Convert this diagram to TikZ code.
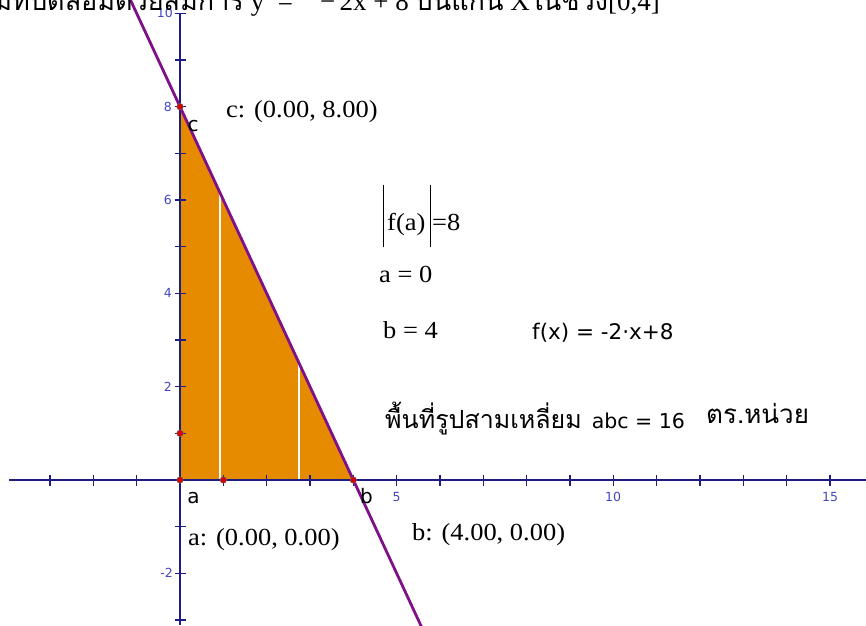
\documentclass[tikz,border=0pt]{standalone}
\usepackage{fontspec}
\setmainfont{Liberation Serif}
\newfontfamily\sansf{DejaVu Sans}
\newfontfamily\thaif[Script=Thai]{Loma}
\definecolor{axisblue}{RGB}{30,30,130}
\definecolor{numblue}{RGB}{70,70,195}
\definecolor{linepurple}{RGB}{128,16,136}
\definecolor{areaorange}{RGB}{230,138,0}
\definecolor{ptred}{RGB}{215,0,0}
\begin{document}
\begin{tikzpicture}[x=1pt,y=-1pt,
  axis/.style={draw=axisblue,line width=1.3pt},
  tickmark/.style={draw=axisblue,line width=1.1pt},
  num/.style={font=\sansf\fontsize{12.5}{14}\selectfont,text=numblue,inner sep=0pt},
  serif/.style={font=\fontsize{24.5}{28}\selectfont,inner sep=0pt,anchor=base west,xscale=1.08},
  sanstext/.style={font=\sansf\fontsize{21.5}{25}\selectfont,inner sep=0pt,anchor=base west},
  ptlabel/.style={font=\sansf\fontsize{20}{22}\selectfont,inner sep=0pt},
  pt/.style={circle,fill=ptred,draw=black!60,line width=0.5pt,inner sep=0pt,minimum size=6.5pt},
]
\useasboundingbox (0,0) rectangle (866,625);
\clip (0,0) rectangle (866,625);
\fill[white] (0,0) rectangle (866,625);
% key points (origin at pixel 180,480; 43.333 px per x unit, 46.667 px per y unit)
\coordinate (A) at (180,480);
\coordinate (B) at (353.33,480);
\coordinate (C) at (180,106.67);
\coordinate (P1) at (223.33,480);
\coordinate (Q1) at (180,433.33);
\coordinate (W1b) at (220,480);
\coordinate (W1t) at (220,192.8);
\coordinate (W2b) at (299,480);
\coordinate (W2t) at (299,362.9);
\coordinate (L1) at ({180+43.333*(-1.3)},{480-46.667*10.6});
\coordinate (L2) at ({180+43.333*5.65},{480-46.667*(-3.3)});
\coordinate (XL) at (9,480);
\coordinate (XR) at (866,480);
\coordinate (YT) at (180,13);
\coordinate (YB) at (180,625);
% area
\fill[areaorange] (A) -- (C) -- (B) -- cycle;
\draw[white,line width=1.2pt] (W1b) -- (W1t);
\draw[white,line width=1.2pt] (W2b) -- (W2t);
% axes
\draw[axis] (XL) -- (XR);
\draw[axis] (YT) -- (YB);
\foreach \i in {-3,...,15} {\draw[tickmark] ({180+43.333*\i},474.5) -- ({180+43.333*\i},485.5);}
\foreach \j in {-3,...,10} {\draw[tickmark] (174.5,{480-46.667*\j}) -- (185.5,{480-46.667*\j});}
\node[num] (n5) at (396.5,497) {5};
\node[num] (n10) at (613,497) {10};
\node[num] (n15) at (830,497) {15};
\node[num,anchor=east] (m10) at (173,13.3) {10};
\node[num,anchor=east] (m8) at (172,106.7) {8};
\node[num,anchor=east] (m6) at (172,200) {6};
\node[num,anchor=east] (m4) at (172,293.3) {4};
\node[num,anchor=east] (m2) at (172,386.7) {2};
\node[num,anchor=east] (mm2) at (173,573.3) {-2};
% function line
\draw[linepurple,line width=2.8pt] (L1) -- (L2);
% points
\foreach \p in {A,B,C,P1,Q1} {\node[pt] at (\p) {};}
\node[ptlabel] (lc) at (193,126) {c};
\node[ptlabel] (la) at (193.5,498) {a};
\node[ptlabel] (lb) at (366.5,496) {b};
% texts
\node[serif] (ctext) at (226,117) {c: (0.00, 8.00)};
\node[serif] (atext) at (188,545) {a: (0.00, 0.00)};
\node[serif] (btext) at (412,540) {b: (4.00, 0.00)};
\draw[black,line width=0.9pt] (383.3,185) -- (383.3,247);
\draw[black,line width=0.9pt] (430,185) -- (430,247);
\node[serif] (fa) at (387,230) {f(a)};
\node[serif] (eq8) at (432,230) {=8};
\node[serif] (aeq) at (379,282) {a = 0};
\node[serif] (beq) at (383,338) {b = 4};
\node[sanstext] (fx) at (532,339) {f(x) = -2·x+8};
\node[inner sep=0pt,anchor=base west] (area) at (385,428) {{\thaif\fontsize{25}{28}\selectfont พื้นที่รูปสามเหลี่ยม}\hspace{10pt}{\sansf\fontsize{20.5}{25}\selectfont abc = 16}};
\node[inner sep=0pt,anchor=base west,font=\thaif\fontsize{26}{30}\selectfont] (unit) at (706,423) {ตร.หน่วย};
% title (cut off at top)
\node[inner sep=0pt,anchor=base east,font=\fontsize{27}{30}\selectfont] (title) at (660,10) {{\thaif สามเหลี่ยมที่ปิดล้อมด้วยสมการ} y\enspace=\quad−\,2x + 8 {\thaif บนแกน} X{\thaif ในช่วง}[0,4]};
\end{tikzpicture}
\end{document}
